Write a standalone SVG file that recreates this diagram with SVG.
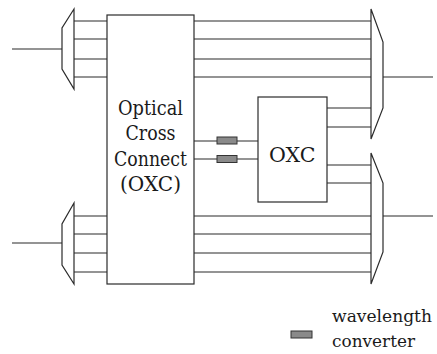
<svg xmlns="http://www.w3.org/2000/svg" width="437" height="354" viewBox="0 0 437 354">
<style>
.ln{stroke:#2b2b2b;stroke-width:1.2;fill:none}
.bx{stroke:#2b2b2b;stroke-width:1.2;fill:#fff}
.mx{stroke:#2b2b2b;stroke-width:1.2;fill:#fff;stroke-linejoin:miter}
.cv{stroke:#333;stroke-width:1;fill:#8a8a8a}
.t{font-family:'DejaVu Serif','Liberation Serif',serif;font-size:20px;fill:#1a1a1a}
.lg{font-size:17.5px}
</style>
<rect width="437" height="354" fill="#fff"/>
<g id="connectors">
<path class="ln" d="M12,49H62M12,243H62"/>
<path class="ln" d="M74,21H107M74,39H107M74,59H107M74,77H107"/>
<path class="ln" d="M74,216H107M74,234H107M74,253H107M74,272H107"/>
<path class="ln" d="M194,21H371M194,39H371M194,59H371M194,77H371"/>
<path class="ln" d="M194,216H371M194,234H371M194,253H371M194,272H371"/>
<path class="ln" d="M327,108H371M327,127H371M327,165H371M327,183H371"/>
<path class="ln" d="M194,141H258M194,159H258"/>
<path class="ln" d="M383,77H433M383,216H433"/>
</g>
<g id="demux-top"><path class="mx" d="M74,9V89L62,69V28Z"/></g>
<g id="demux-bottom"><path class="mx" d="M74,203V284L62,265V224Z"/></g>
<g id="mux-top"><path class="mx" d="M371,9L383,42V108L371,139Z"/></g>
<g id="mux-bottom"><path class="mx" d="M371,153L383,183V252L371,284Z"/></g>
<g id="big-oxc">
<rect class="bx" x="107" y="15" width="87" height="269"/>
<text class="t" x="118" y="115" textLength="65" lengthAdjust="spacingAndGlyphs">Optical</text>
<text class="t" x="125.5" y="140" textLength="50" lengthAdjust="spacingAndGlyphs">Cross</text>
<text class="t" x="114" y="166" textLength="73" lengthAdjust="spacingAndGlyphs">Connect</text>
<text class="t" x="120" y="191" textLength="61" lengthAdjust="spacingAndGlyphs">(OXC)</text>
</g>
<g id="small-oxc">
<rect class="bx" x="258" y="97" width="69" height="105"/>
<text class="t" x="269" y="162" textLength="46.5" lengthAdjust="spacingAndGlyphs">OXC</text>
</g>
<g id="converter-1"><rect class="cv" x="217" y="137" width="20" height="7"/></g>
<g id="converter-2"><rect class="cv" x="217" y="155.5" width="20" height="7"/></g>
<g id="legend">
<rect class="cv" x="291" y="331" width="21" height="7"/>
<text class="t lg" x="332" y="322" textLength="100" lengthAdjust="spacingAndGlyphs">wavelength</text>
<text class="t lg" x="332" y="347" textLength="83" lengthAdjust="spacingAndGlyphs">converter</text>
</g>
</svg>
